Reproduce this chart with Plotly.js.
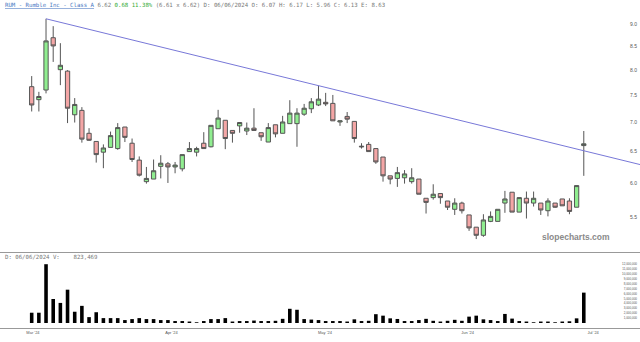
<!DOCTYPE html>
<html><head><meta charset="utf-8">
<script src="https://cdn.plot.ly/plotly-3.0.1.min.js"></script>
<style>html,body{margin:0;padding:0;background:#fff}#chart{width:640px;height:342px}</style>
</head><body><div id="chart"></div>
<script>
const openP = [7.67,7.42,7.605,8.69,8.01,7.98,7.14,7.22,6.81,6.67,
  6.49,6.57,6.55,6.92,6.64,6.36,6.02,6.06,6.26,6.30,
  6.25,6.22,6.50,6.49,6.64,6.58,6.89,7.04,6.86,6.94,
  6.85,6.90,6.82,6.66,6.96,6.81,6.98,6.98,7.15,7.25,
  7.32,7.37,7.35,7.01,7.11,7.02,6.59,6.62,6.55,6.41,
  6.11,6.07,6.08,6.02,6.06,5.77,5.78,5.84,5.73,5.61,
  5.70,5.53,5.36,5.25,5.44,5.44,5.70,5.86,5.57,5.77,
  5.70,5.70,5.59,5.70,5.76,5.73,5.64,6.60];
const highP = [7.88,7.57,9.12,8.95,8.57,8.00,7.45,7.28,6.90,6.67,
  6.62,6.84,6.99,6.92,6.72,6.42,6.25,6.37,6.44,6.33,
  6.33,6.45,6.66,6.58,6.83,6.95,7.23,7.04,6.86,7.00,
  7.00,7.26,6.82,6.99,6.96,7.12,7.41,7.26,7.34,7.45,
  7.69,7.55,7.51,7.03,7.19,7.02,6.64,6.66,6.55,6.41,
  6.11,6.25,6.20,6.23,6.06,5.77,5.98,5.84,5.73,5.77,
  5.72,5.53,5.36,5.54,5.58,5.61,5.88,5.86,5.78,5.87,
  5.87,5.70,5.77,5.70,5.76,5.77,5.96,6.85];
const lowP = [7.20,7.20,7.54,8.17,7.70,6.99,7.00,6.65,6.68,6.32,
  6.23,6.57,6.53,6.66,6.33,6.10,5.99,6.06,6.07,6.00,
  6.15,6.18,6.50,6.42,6.55,6.57,6.89,6.54,6.65,6.82,
  6.78,6.86,6.68,6.66,6.74,6.81,6.98,6.58,7.12,7.17,
  7.30,7.30,7.03,6.94,6.99,6.65,6.55,6.50,6.30,6.02,
  5.98,5.94,5.99,5.99,5.83,5.55,5.75,5.69,5.60,5.53,
  5.55,5.31,5.20,5.23,5.43,5.44,5.56,5.57,5.57,5.48,
  5.65,5.53,5.51,5.63,5.66,5.54,5.64,6.11];
const closeP = [7.32,7.48,8.62,8.51,8.10,7.26,7.33,6.71,6.69,6.45,
  6.56,6.77,6.91,6.74,6.37,6.12,6.07,6.19,6.31,6.25,
  6.28,6.45,6.55,6.55,6.55,6.95,7.08,6.72,6.81,7.00,
  6.90,6.86,6.75,6.91,6.80,7.01,7.17,7.17,7.26,7.38,
  7.43,7.34,7.03,7.03,7.06,6.72,6.58,6.50,6.33,6.11,
  6.06,6.16,6.14,6.08,5.83,5.71,5.83,5.78,5.64,5.70,
  5.59,5.35,5.25,5.46,5.51,5.61,5.76,5.57,5.78,5.70,
  5.77,5.60,5.73,5.64,5.66,5.58,5.96,6.63];
const volume = [2100000,2100000,12000000,4900000,4100000,6800000,2300000,3500000,1200000,2200000,
  1000000,1000000,1000000,600000,800000,1000000,800000,800000,600000,600000,
  400000,400000,300000,150000,400000,800000,800000,1000000,300000,400000,
  400000,500000,400000,400000,450000,850000,2900000,2700000,800000,700000,
  600000,400000,400000,400000,300000,750000,400000,450000,1800000,1500000,
  950000,823469,400000,400000,600000,850000,450000,300000,450000,650000,
  450000,1300000,1500000,750000,600000,400000,1850000,900000,400000,300000,
  150000,300000,300000,150000,300000,350000,950000,6200000];
const monthLabels = ["Mar '24","Apr '24","May '24","Jun '24","Jul '24"];
const priceTicks = [5.5,6.0,6.5,7.0,7.5,8.0,8.5,9.0];
const volTicks = [1e6,2e6,3e6,4e6,5e6,6e6,7e6,8e6,9e6,10e6,11e6,12e6];
const trendAnchors = [2, 40];

const idx = openP.map((_, i) => i);
const xMax = 84.84;
const [ta, tb] = trendAnchors;
const slope = (Math.log(highP[tb]) - Math.log(highP[ta])) / (tb - ta);
const trendX = [ta, xMax];
const trendY = [highP[ta], Math.exp(Math.log(highP[ta]) + slope * (xMax - ta))];

const fmt = v => v.toLocaleString('en-US');
const traces = [
  {type:'candlestick', x: idx, open: openP, high: highP, low: lowP, close: closeP,
   xaxis:'x', yaxis:'y', whiskerwidth:0,
   increasing:{fillcolor:'#90ee90', line:{color:'#555555', width:1}},
   decreasing:{fillcolor:'#f4a6a6', line:{color:'#555555', width:1}},
   showlegend:false, hoverinfo:'skip'},
  {type:'scatter', mode:'lines', x: trendX, y: trendY, xaxis:'x', yaxis:'y',
   line:{color:'#7878d8', width:1}, showlegend:false, hoverinfo:'skip'},
  {type:'bar', x: idx, y: volume, xaxis:'x', yaxis:'y2', width:0.5,
   marker:{color:'#000000'}, showlegend:false, hoverinfo:'skip'}
];

const sans = '"Liberation Sans", Arial, sans-serif';
const mono = '"DejaVu Sans Mono", "Liberation Mono", monospace';
const layout = {
  width:640, height:342, margin:{l:0, r:0, t:14, b:14},
  paper_bgcolor:'#ffffff', plot_bgcolor:'#ffffff',
  showlegend:false, boxgap:0.15,
  xaxis:{anchor:'y2', range:[-4.42, xMax], showgrid:false, zeroline:false,
    showline:true, linecolor:'#999999', linewidth:1,
    tickvals:[0.18, 19.5, 40.9, 60.8, 78.3], ticktext: monthLabels,
    ticks:'', tickfont:{family:sans, size:4, color:'#555555'},
    rangeslider:{visible:false}},
  yaxis:{domain:[0.2484, 1], type:'log', range:[0.70389, 0.96530],
    side:'right', ticklabelposition:'inside', showgrid:false, zeroline:false,
    tickvals: priceTicks, ticktext: priceTicks.map(v => v.toFixed(1)), ticks:'',
    tickfont:{family:sans, size:5, color:'#555555'}},
  yaxis2:{domain:[0, 0.2389], range:[-1020000, 14290000],
    side:'right', ticklabelposition:'inside', showgrid:false, zeroline:false,
    tickvals: volTicks, ticktext: volTicks.map(fmt), ticks:'',
    tickfont:{family:sans, size:3, color:'#555555'}},
  shapes:[
    {type:'line', xref:'paper', yref:'paper', x0:0, x1:1, y0:0.2404, y1:0.2404,
     line:{color:'#999999', width:1}}
  ],
  annotations:[
    {xref:'paper', yref:'paper', x:3/640, y:1.0287, xanchor:'left', yanchor:'middle', showarrow:false,
     align:'left', font:{family:mono, size:5.7, color:'#777777'},
     text:'<span style="color:#4a78c2"><u>RUM - Rumble Inc - Class A</u></span> 6.62 <span style="color:#33aa33">0.68 11.38%</span> (6.61 x 6.62) D: 06/06/2024 O: 6.07 H: 6.17 L: 5.96 C: 6.13 E: 8.63'},
    {xref:'paper', yref:'paper', x:3/640, y:0.2261, xanchor:'left', yanchor:'middle', showarrow:false,
     font:{family:mono, size:5.7, color:'#777777'},
     text:'D: 06/06/2024 V:\u00a0\u00a0\u00a0\u00a0' + fmt(volume[51])},
    {xref:'paper', yref:'paper', x:0.9, y:0.2898, xanchor:'center', yanchor:'middle', showarrow:false,
     font:{family:sans, size:8.5, color:'#8a8a8a', weight:'bold'},
     text:'<b>slopecharts.com</b>'}
  ]
};
Plotly.newPlot('chart', traces, layout, {staticPlot:true, displayModeBar:false});
</script></body></html>
